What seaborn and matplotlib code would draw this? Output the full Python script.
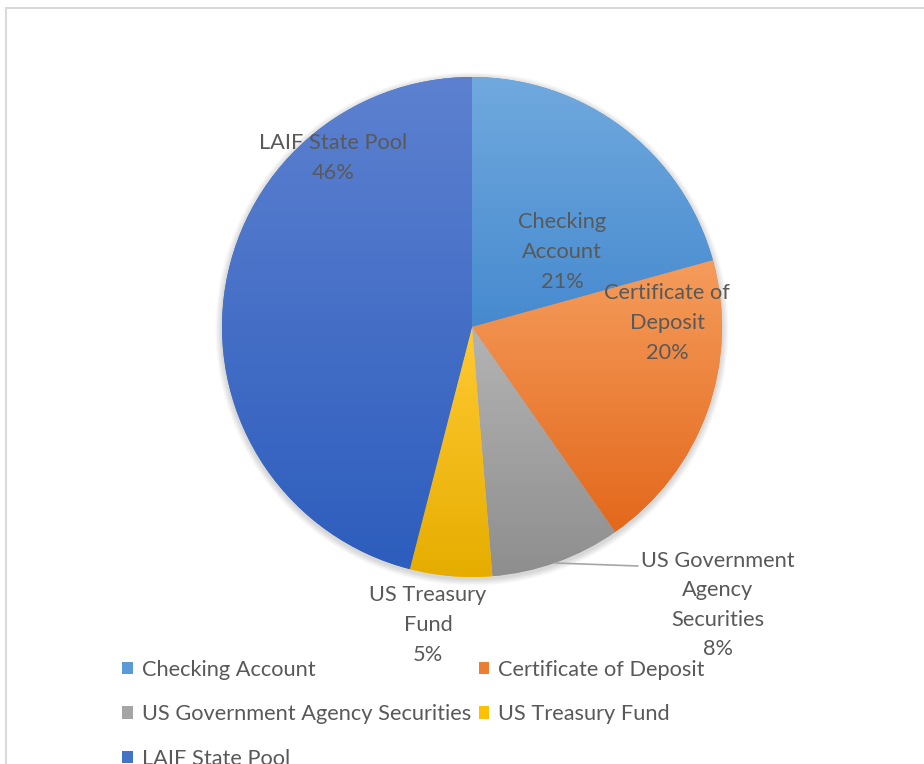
import numpy as np
import matplotlib
matplotlib.use("Agg")
import matplotlib.pyplot as plt
import seaborn as sns
from matplotlib.colors import LinearSegmentedColormap
from matplotlib.patches import Patch, Circle, Rectangle

# Portfolio share by investment type
names = ["Checking Account", "Certificate of Deposit", "US Government Agency Securities",
         "US Treasury Fund", "LAIF State Pool"]
label_names = ["Checking\nAccount", "Certificate of\nDeposit", "US Government\nAgency\nSecurities",
               "US Treasury\nFund", "LAIF State Pool"]
shares = [20.7, 19.6, 8.4, 5.3, 46.0]

base_colors = ["#5B9BD5", "#ED7D31", "#A5A5A5", "#FFC000", "#4472C4"]
top_colors = ["#70A9DE", "#F59C5C", "#B4B4B4", "#FFCA33", "#5D81D0"]
bottom_colors = ["#468ACF", "#E3681B", "#8E8E8E", "#E6AD00", "#2D5DBD"]

sns.set_theme(style="white")
plt.rcParams["font.family"] = ["Lato", "DejaVu Sans"]
text_color = "#595959"
fs = 15.7

W, H = 924, 764
fig = plt.figure(figsize=(W / 100, H / 100), dpi=100)
ax = fig.add_axes([0, 0, 1, 1])

def Y(y):
    return H - y

cx, cy, R = 472, Y(327), 250

# soft shadow around the pie
for i in range(8):
    ax.add_patch(Circle((cx, cy - 2), R + 1 + i * 0.8, color="black", alpha=0.018, lw=0, zorder=0.5))

wedges, _ = ax.pie(shares, startangle=90, counterclock=False, center=(cx, cy), radius=R,
                   colors=base_colors, wedgeprops=dict(linewidth=0))

# vertical gradient fill in each slice
for w, c0, c1 in zip(wedges, top_colors, bottom_colors):
    ext = w.get_path().get_extents()
    cmap = LinearSegmentedColormap.from_list("g", [c0, c1])
    grad = np.linspace(0, 1, 256).reshape(-1, 1)
    im = ax.imshow(grad, cmap=cmap, extent=(ext.x0, ext.x1, ext.y0, ext.y1),
                   origin="upper", aspect="auto", zorder=2, interpolation="bilinear")
    im.set_clip_path(w)

# data labels
label_pos = [(562, 252), (667, 323), (718, 605), (428, 625), (333, 158)]
for nm, v, (x, y) in zip(label_names, shares, label_pos):
    ax.text(x, Y(y), f"{nm}\n{v:.0f}%", ha="center", va="center", fontsize=fs,
            color=text_color, linespacing=1.6, zorder=5)

# leader line for the small slice
ax.plot([555, 638], [Y(563), Y(566)], color="#A6A6A6", lw=1.2, zorder=4)

ax.set_xlim(0, W)
ax.set_ylim(0, H)
ax.set_aspect("auto")
ax.axis("off")

# legend laid out row by row, as in the original
order = [0, 2, 4, 1, 3]
handles = [Patch(facecolor=base_colors[i], edgecolor="none") for i in order]
leg = fig.legend(handles, [names[i] for i in order], loc="upper left",
                 bbox_to_anchor=(122 / W, Y(660) / H),
                 ncol=2, frameon=False, fontsize=fs, borderpad=0, borderaxespad=0,
                 handlelength=0.5, handleheight=0.5, handletextpad=0.4,
                 columnspacing=0.35, labelspacing=1.12)
for t in leg.get_texts():
    t.set_color(text_color)

# chart area border
fig.add_artist(Rectangle((6 / W, -0.1), 1.2, Y(8) / H + 0.1, transform=fig.transFigure,
                         fill=False, edgecolor="#D9D9D9", lw=1.5))

fig.savefig("out.png", dpi=100, facecolor="white")
